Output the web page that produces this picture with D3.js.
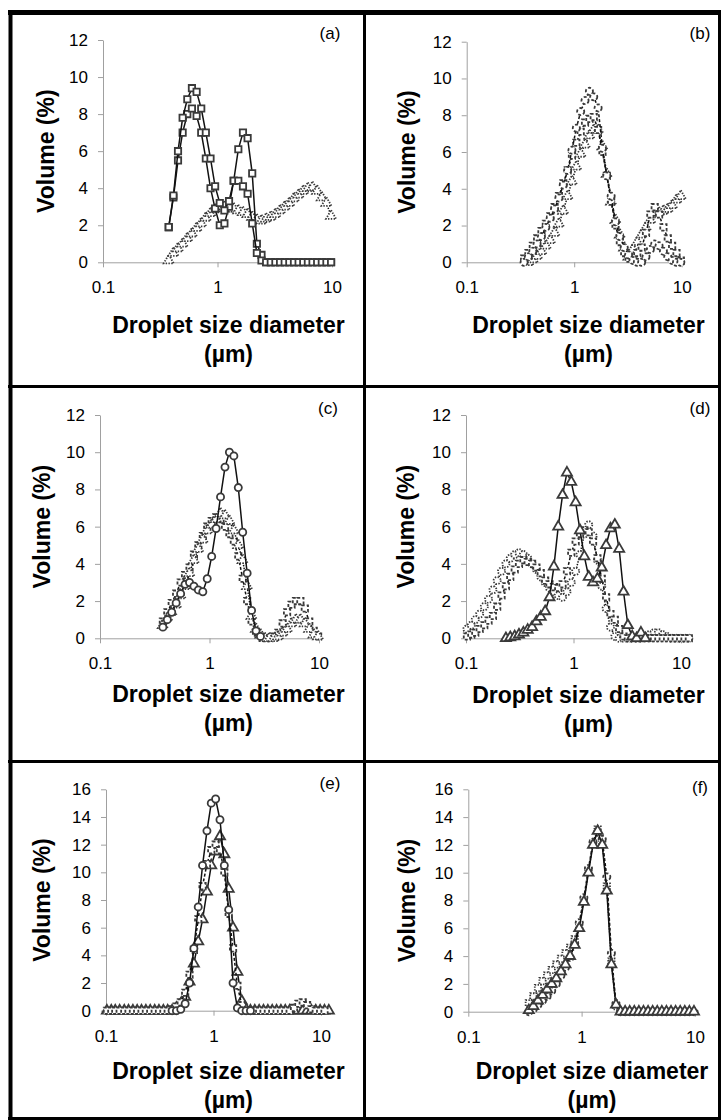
<!DOCTYPE html>
<html>
<head>
<meta charset="utf-8">
<script src="https://cdn.jsdelivr.net/npm/d3@7"></script>
<style>
  body { margin: 0; background: #fff; }
  text { font-family: "Liberation Sans", Arial, sans-serif; fill: #000; }
  .axis path, .axis line { stroke: #a0a0a0; stroke-width: 1; }
  .axis text { font-size: 17px; font-family: "Liberation Sans", Arial, sans-serif; }
  .axis-title { font-size: 23px; font-weight: bold; }
  .panel-label { font-size: 17px; }
  .frame { stroke: #000; }
</style>
</head>
<body>
<svg id="figure" width="721" height="1120"></svg>
<script>
// size classes of the analyser (µm)
const bins = [0.102, 0.112, 0.122, 0.134, 0.148, 0.162, 0.178, 0.195, 0.214, 0.235,
  0.258, 0.284, 0.311, 0.342, 0.375, 0.412, 0.452, 0.496, 0.545, 0.598,
  0.657, 0.721, 0.791, 0.869, 0.953, 1.047, 1.149, 1.261, 1.385, 1.520,
  1.669, 1.832, 2.010, 2.207, 2.423, 2.660, 2.920, 3.205, 3.519, 3.863,
  4.240, 4.655, 5.110, 5.610, 6.158, 6.760, 7.421, 8.147, 8.943, 9.817,
  10.78, 11.83, 12.99, 14.26];

const xTicks = [0.1, 1, 10];
const yTicks12 = [0, 2, 4, 6, 8, 10, 12];
const yTicks16 = [0, 2, 4, 6, 8, 10, 12, 14, 16];

// (a) values from 0.375 µm
const aSquare1 = [1.9, 3.6, 6.0, 7.8, 8.8, 9.4, 9.2, 8.3, 7.0, 5.6, 4.1, 3.2, 2.8, 3.3, 4.4, 4.4, 4.1, 3.7, 2.1, 0.5, 0.1,
  0, 0, 0, 0, 0, 0, 0, 0, 0, 0, 0, 0, 0, 0, 0];
const aSquare2 = [1.9, 3.5, 5.5, 7.0, 8.0, 8.3, 7.9, 7.0, 5.6, 4.0, 2.9, 2.0, 2.1, 3.0, 4.4, 6.1, 7.0, 6.7, 4.8, 1.0, 0.4,
  0, 0, 0, 0, 0, 0, 0, 0, 0, 0, 0, 0, 0, 0, 0];
const aTriangle = [0.1, 0.5, 0.75, 1.0, 1.3, 1.55, 1.85, 2.1, 2.4, 2.65, 2.85, 3.0, 3.0, 2.9, 2.9, 2.8, 2.7, 2.6,
  2.45, 2.3, 2.25, 2.35, 2.45, 2.6, 2.8, 3.0, 3.2, 3.45, 3.65, 3.85, 4.0, 4.05, 3.85, 3.5, 3.2, 2.5];

// (b) circles and squares from 0.342 µm, triangles from 0.375 µm
const bCircle = [0.0, 0.3, 0.6, 1.0, 1.4, 1.9, 2.4, 2.9, 3.5, 4.2, 5.0, 6.1, 7.3, 8.2, 8.8, 9.3, 9.0, 8.4, 6.2, 4.7,
  3.6, 2.2, 1.4, 0.8, 0.4, 0.1, 0.0, 0.0, 0.3, 0.7, 1.0, 0.9, 0.6, 0.3, 0.1, 0.0, 0.0];
const bSquare = [0.2, 0.5, 0.9, 1.3, 1.7, 2.1, 2.5, 3.0, 3.6, 4.3, 5.0, 5.8, 6.5, 7.1, 7.6, 7.8, 7.9, 7.2, 6.0, 4.7,
  3.3, 2.0, 1.1, 0.5, 0.2, 0.3, 0.5, 0.8, 1.6, 2.6, 3.0, 2.6, 1.9, 1.3, 0.9, 0.5, 0.1];
const bTriangle = [0.0, 0.15, 0.35, 0.6, 0.9, 1.2, 1.6, 2.1, 2.8, 3.6, 4.4, 5.2, 5.9, 6.4, 6.9, 7.2, 7.2, 6.3, 4.8,
  3.3, 2.3, 1.5, 0.8, 0.3, 0.7, 1.1, 1.5, 1.9, 2.3, 2.6, 2.7, 2.8, 2.9, 3.1, 3.4, 3.6];

// (c) values from 0.375 µm
const cCircle = [0.6, 1.0, 1.4, 1.9, 2.4, 2.9, 3.0, 2.8, 2.6, 2.5, 3.2, 4.4, 5.9, 7.6, 9.2, 10.0, 9.8, 8.1, 5.7,
  3.5, 1.5, 0.4, 0.1];
const cTriangle = [0.7, 1.1, 1.4, 1.8, 2.3, 2.8, 3.5, 4.2, 4.8, 5.3, 5.8, 6.1, 6.4, 6.7, 6.6, 6.3, 5.8, 5.0, 4.2,
  2.8, 1.2, 0.5, 0.2, 0.0, 0.0, 0.0, 0.1, 0.3, 0.5, 0.8, 1.0, 1.0, 0.8, 0.5, 0.2, 0.1];
const cSquare = [0.9, 1.4, 1.9, 2.4, 3.0, 3.4, 3.8, 4.5, 5.0, 5.5, 6.0, 6.3, 6.5, 6.4, 6.0, 5.6, 5.2, 4.4, 3.2,
  2.0, 0.9, 0.3, 0.1, 0.0, 0.0, 0.1, 0.3, 0.8, 1.4, 1.8, 2.0, 2.0, 1.6, 0.9, 0.4, 0.1];

// (d) triangles from 0.235 µm, squares and circles from 0.102 µm
const dTriangle = [0, 0.05, 0.1, 0.2, 0.3, 0.45, 0.6, 0.9, 1.15, 1.45, 2.2, 3.85,
  6.0, 7.7, 8.9, 8.4, 7.3, 5.8, 4.4, 3.3, 3.0, 3.2, 3.8, 5.0, 5.9, 6.1, 4.8, 2.5, 0.7, 0.1, 0.0, 0.3, 0.0];
const dSquare = [0.1, 0.2, 0.3, 0.5, 0.7, 0.95, 1.2, 1.7, 2.3, 2.8, 3.3, 3.7, 4.0, 4.2, 4.1, 4.0, 3.8, 3.5, 3.1,
  2.9, 2.75, 2.7, 2.9, 3.6, 4.6, 5.2, 5.6, 5.8, 5.7, 5.2, 4.3, 3.2, 2.2, 1.3, 1.0, 0.5, 0.1,
  0, 0, 0, 0, 0, 0, 0, 0, 0, 0, 0, 0, 0, 0, 0];
const dCircle = [0.5, 0.7, 1.0, 1.3, 1.7, 2.1, 2.6, 3.1, 3.6, 4.0, 4.3, 4.5, 4.6, 4.5, 4.3, 4.0, 3.7, 3.3, 3.0,
  2.7, 2.5, 2.3, 2.2, 2.5, 3.0, 3.6, 4.5, 5.6, 6.1, 5.5, 4.2, 2.8, 1.6, 0.6, 0.1, 0.0, 0.0, 0.0, 0.0,
  0.0, 0.0, 0.1, 0.2, 0.3, 0.3, 0.2, 0.1, 0.0, 0.0, 0.0, 0.0, 0.0];

// (e) circles from 0.412 µm, the others from 0.102 µm
const eCircle = [0, 0, 0.1, 0.5, 2.0, 4.5, 7.5, 10.5, 13.0, 15.0, 15.3, 13.8, 10.5, 7.3, 2.0, 0.2, 0, 0, 0];
const eTriangle = [0, 0, 0, 0, 0, 0, 0, 0, 0, 0, 0, 0, 0, 0, 0, 0, 0.2, 0.5, 1.0, 2.1, 3.4, 5.0, 6.6, 8.6, 10.5,
  11.5, 12.6, 11.3, 8.8, 6.0, 2.8, 0.7, 0.1, 0, 0, 0, 0, 0, 0, 0, 0, 0, 0, 0, 0, 0, 0, 0, 0, 0, 0, 0];
const eSquare = [0, 0, 0, 0, 0, 0, 0, 0, 0, 0, 0, 0, 0, 0, 0, 0.1, 0.3, 0.6, 1.3, 2.6, 4.4, 6.6, 9.0, 10.6, 11.6,
  12.0, 11.6, 10.0, 7.0, 4.5, 1.8, 0.4, 0, 0, 0, 0, 0, 0, 0, 0, 0, 0, 0, 0.2, 0.5, 0.6, 0.4, 0.1, 0, 0, 0];

// (f) values from 0.342 µm
const fTriangle = [0.1, 0.4, 0.8, 1.2, 1.6, 2.0, 2.4, 2.9, 3.4, 4.0, 4.8, 6.0, 7.9, 10.0, 12.0, 13.0, 12.0, 8.7,
  3.4, 0.5, 0, 0, 0, 0, 0, 0, 0, 0, 0, 0, 0, 0, 0, 0, 0, 0, 0];
const fCircle = [0.0, 0.2, 0.5, 0.8, 1.1, 1.5, 2.0, 2.6, 3.2, 3.9, 4.9, 6.4, 8.2, 10.3, 12.2, 12.9, 12.4, 9.7,
  4.2, 0.6, 0, 0, 0, 0, 0, 0, 0, 0, 0, 0, 0, 0, 0, 0, 0, 0, 0];
const fSquare = [0.6, 1.1, 1.7, 2.2, 2.6, 3.0, 3.4, 3.8, 4.2, 4.6, 5.2, 6.2, 8.0, 10.1, 12.1, 13.1, 12.2, 9.0,
  3.6, 0.4, 0, 0, 0, 0, 0, 0, 0, 0, 0, 0, 0, 0, 0, 0, 0, 0];

const dashes = { solid: null, dash: '3,2', dot: '1.4,1.4' };
const symbols = {
  square: d3.symbol(d3.symbolSquare, 40),
  circle: d3.symbol(d3.symbolCircle, 40),
  triangle: d3.symbol(d3.symbolTriangle, 44)
};

const panels = [
  { label: '(a)', yTicks: yTicks12, box: { left: 103, right: 332, top: 40, bottom: 262.3 },
    titleX: 228.5, titleY: 333, yTitleX: 53.5, labelX: 330, labelY: 39,
    series: [
      { values: aTriangle, from: 0.375, shape: 'triangle', line: 'dot' },
      { values: aSquare2, from: 0.375, shape: 'square', line: 'solid' },
      { values: aSquare1, from: 0.375, shape: 'square', line: 'solid' }] },
  { label: '(b)', yTicks: yTicks12, box: { left: 466.7, right: 681.7, top: 41.7, bottom: 262.3 },
    titleX: 588.5, titleY: 333, yTitleX: 414.5, labelX: 700, labelY: 39,
    series: [
      { values: bTriangle, from: 0.375, shape: 'triangle', line: 'dot' },
      { values: bSquare, from: 0.342, shape: 'square', line: 'dash' },
      { values: bCircle, from: 0.342, shape: 'circle', line: 'dash' }] },
  { label: '(c)', yTicks: yTicks12, box: { left: 100, right: 319, top: 415, bottom: 638.3 },
    titleX: 228.5, titleY: 702, yTitleX: 50, labelX: 328, labelY: 414,
    series: [
      { values: cSquare, from: 0.375, shape: 'square', line: 'dash' },
      { values: cTriangle, from: 0.375, shape: 'triangle', line: 'dot' },
      { values: cCircle, from: 0.375, shape: 'circle', line: 'solid' }] },
  { label: '(d)', yTicks: yTicks12, box: { left: 466, right: 681, top: 415, bottom: 638.3 },
    titleX: 588.5, titleY: 703, yTitleX: 413.5, labelX: 700, labelY: 414,
    series: [
      { values: dCircle, from: 0.102, shape: 'circle', line: 'dot' },
      { values: dSquare, from: 0.102, shape: 'square', line: 'dash' },
      { values: dTriangle, from: 0.235, shape: 'triangle', line: 'solid' }] },
  { label: '(e)', yTicks: yTicks16, box: { left: 106, right: 321, top: 789.3, bottom: 1010.7 },
    titleX: 228.5, titleY: 1079, yTitleX: 50, labelX: 330, labelY: 789,
    series: [
      { values: eTriangle, from: 0.102, shape: 'triangle', line: 'solid' },
      { values: eSquare, from: 0.102, shape: 'square', line: 'dash' },
      { values: eCircle, from: 0.412, shape: 'circle', line: 'solid' }] },
  { label: '(f)', yTicks: yTicks16, box: { left: 468.3, right: 694.9, top: 789.3, bottom: 1011.7 },
    titleX: 592, titleY: 1079, yTitleX: 415, labelX: 700, labelY: 793,
    series: [
      { values: fSquare, from: 0.342, shape: 'square', line: 'dot' },
      { values: fCircle, from: 0.342, shape: 'circle', line: 'dash' },
      { values: fTriangle, from: 0.342, shape: 'triangle', line: 'solid' }] }
];

class SizePanel {

  constructor(_config) {
    this.config = _config;
    this.initVis();
  }

  initVis() {
    let vis = this;
    const b = vis.config.box;
    const yTicks = vis.config.yTicks;

    vis.xScale = d3.scaleLog().domain([0.1, 10]).range([b.left, b.right]);
    vis.yScale = d3.scaleLinear().domain([0, yTicks[yTicks.length - 1]]).range([b.bottom, b.top]);

    vis.g = d3.select('#figure').append('g');

    vis.g.append('g')
        .attr('class', 'axis x-axis')
        .attr('transform', `translate(0,${b.bottom})`)
        .call(d3.axisBottom(vis.xScale).tickValues(xTicks).tickFormat(d => String(d))
          .tickSize(5).tickSizeOuter(0).tickPadding(14));

    vis.g.append('g')
        .attr('class', 'axis y-axis')
        .attr('transform', `translate(${b.left},0)`)
        .call(d3.axisLeft(vis.yScale).tickValues(yTicks).tickSize(5).tickSizeOuter(0).tickPadding(10));

    vis.g.selectAll('.axis text').attr('fill', '#000');

    // axis titles
    vis.g.append('text')
        .attr('class', 'axis-title')
        .attr('x', vis.config.titleX)
        .attr('y', vis.config.titleY)
        .attr('text-anchor', 'middle')
        .text('Droplet size diameter');
    vis.g.append('text')
        .attr('class', 'axis-title')
        .attr('x', vis.config.titleX)
        .attr('y', vis.config.titleY + 29)
        .attr('text-anchor', 'middle')
        .text('(µm)');
    vis.g.append('text')
        .attr('class', 'axis-title')
        .attr('transform', `translate(${vis.config.yTitleX},${(b.top + b.bottom) / 2}) rotate(-90)`)
        .attr('text-anchor', 'middle')
        .text('Volume (%)');

    vis.g.append('text')
        .attr('class', 'panel-label')
        .attr('x', vis.config.labelX)
        .attr('y', vis.config.labelY)
        .attr('text-anchor', 'middle')
        .text(vis.config.label);

    vis.renderVis();
  }

  renderVis() {
    let vis = this;
    const line = d3.line()
        .x(d => vis.xScale(d[0]))
        .y(d => vis.yScale(d[1]));

    vis.config.series.forEach(s => {
      const start = bins.indexOf(s.from);
      const points = s.values.map((v, i) => [bins[start + i], v]);
      const sg = vis.g.append('g');

      sg.append('path')
          .datum(points)
          .attr('d', line)
          .attr('fill', 'none')
          .attr('stroke', '#111')
          .attr('stroke-width', 1.5)
          .attr('stroke-dasharray', dashes[s.line]);

      // markers take the dash of their series, as in the spreadsheet original
      sg.selectAll('.marker')
          .data(points)
        .join('path')
          .attr('class', 'marker')
          .attr('d', symbols[s.shape])
          .attr('transform', d => `translate(${vis.xScale(d[0])},${vis.yScale(d[1])})`)
          .attr('fill', '#fff')
          .attr('stroke', '#3a3a3a')
          .attr('stroke-width', 1.8)
          .attr('stroke-dasharray', dashes[s.line]);
    });
  }
}

// panel frame
const svg = d3.select('#figure');
const frame = [
  { x1: 8, y1: 12.5, x2: 721, y2: 12.5, w: 5 },
  { x1: 10.5, y1: 10, x2: 10.5, y2: 1120, w: 4 },
  { x1: 364.5, y1: 10, x2: 364.5, y2: 1120, w: 3 },
  { x1: 719.5, y1: 10, x2: 719.5, y2: 1120, w: 3 },
  { x1: 8, y1: 386.5, x2: 721, y2: 386.5, w: 3 },
  { x1: 8, y1: 761.5, x2: 721, y2: 761.5, w: 3 },
  { x1: 8, y1: 1118.5, x2: 721, y2: 1118.5, w: 3 }
];
svg.selectAll('.frame')
    .data(frame)
  .join('line')
    .attr('class', 'frame')
    .attr('x1', d => d.x1).attr('y1', d => d.y1)
    .attr('x2', d => d.x2).attr('y2', d => d.y2)
    .attr('stroke-width', d => d.w);

panels.forEach(p => new SizePanel(p));
</script>
</body>
</html>
